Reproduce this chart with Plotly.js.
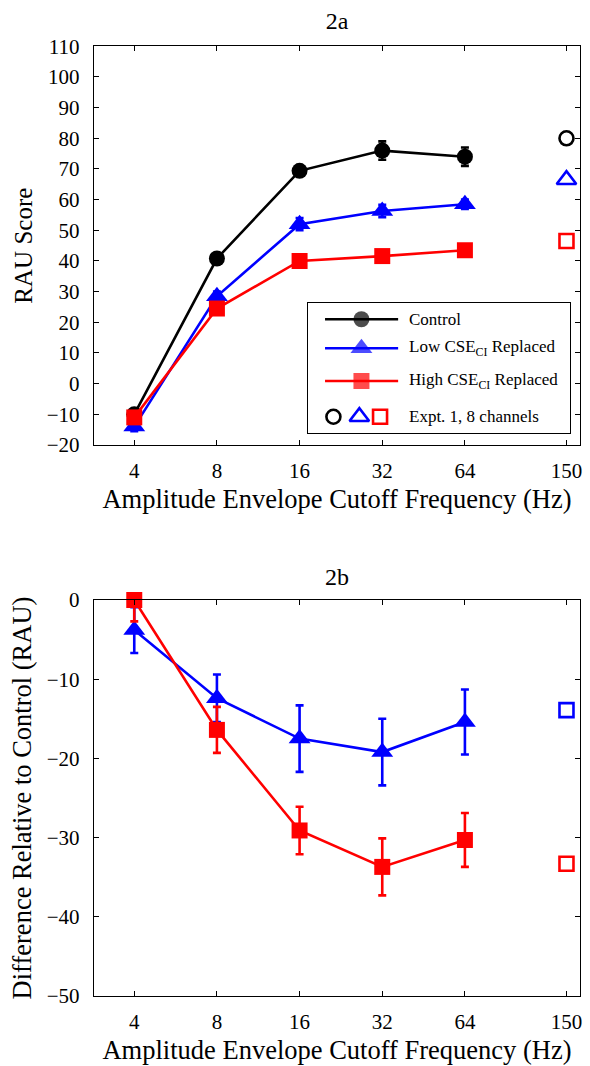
<!DOCTYPE html>
<html>
<head>
<meta charset="utf-8">
<script src="https://cdn.plot.ly/plotly-3.0.1.min.js"></script>
<style>html,body{margin:0;padding:0;background:#fff;}#chart{width:590px;height:1066px;}</style>
</head>
<body>
<div id="chart"></div>
<script>
// ---- data ----
const freqs = [4, 8, 16, 32, 64];
const exptFreq = [150];
const tickVals = [4, 8, 16, 32, 64, 150];
const tickLabels = ['4', '8', '16', '32', '64', '150'];

// Panel 2a: RAU scores
const controlRAU = [-10, 40.8, 69.4, 76, 74];
const controlErr = [1.5, 1.5, 1.5, 3, 3];
const lowRAU = [-14, 28.5, 52, 56.3, 58.5];
const lowErr = [1.5, 1.5, 2, 2, 1.5];
const highRAU = [-11, 24.5, 40, 41.6, 43.5];
const highErr = [1, 1.5, 1.5, 1.5, 1.5];
const exptControlRAU = [80];
const exptLowRAU = [66.5];
const exptHighRAU = [46.5];

// Panel 2b: difference relative to control
const lowDiff = [-3.8, -12.4, -17.5, -19.2, -15.4];
const lowDiffErr = [2.9, 3.0, 4.2, 4.2, 4.1];
const highDiff = [0, -16.4, -29.1, -33.7, -30.3];
const highDiffErr = [2.7, 2.9, 3.0, 3.6, 3.4];
const exptLowDiff = [-13.9];
const exptHighDiff = [-33.3];

// legend labels
const legendLabels = ['Control', 'Low CSE<sub>CI</sub> Replaced', 'High CSE<sub>CI</sub> Replaced', 'Expt. 1, 8 channels'];

// ---- style ----
const BLACK = '#000000', BLUE = '#0000ff', RED = '#ff0000';
const FONT = '"Liberation Serif", "Times New Roman", serif';
const W = 590, H = 1066;
const px = v => v / W;
const py = v => 1 - v / H;

function series(x, y, err, color, symbol, size, xa, ya) {
  return {
    x: x, y: y, xaxis: xa, yaxis: ya, type: 'scatter', mode: 'lines+markers',
    line: {color: color, width: 2.6},
    marker: {color: color, symbol: symbol, size: size, line: {width: 0}},
    error_y: {type: 'data', array: err, visible: true, color: color, thickness: 2.6, width: 4},
    showlegend: false, hoverinfo: 'x+y', cliponaxis: false
  };
}
function openPt(x, y, color, symbol, size, xa, ya) {
  return {
    x: x, y: y, xaxis: xa, yaxis: ya, type: 'scatter', mode: 'markers',
    marker: {color: color, symbol: symbol, size: size, line: {color: color, width: 2.6}},
    showlegend: false, hoverinfo: 'x+y'
  };
}

const traces = [
  series(freqs, controlRAU, controlErr, BLACK, 'circle', 16, 'x', 'y'),
  series(freqs, lowRAU, lowErr, BLUE, 'triangle-up', 19, 'x', 'y'),
  series(freqs, highRAU, highErr, RED, 'square', 16, 'x', 'y'),
  openPt(exptFreq, exptControlRAU, BLACK, 'circle-open', 14, 'x', 'y'),
  openPt(exptFreq, exptLowRAU, BLUE, 'triangle-up-open', 17, 'x', 'y'),
  openPt(exptFreq, exptHighRAU, RED, 'square-open', 14, 'x', 'y'),
  series(freqs, lowDiff, lowDiffErr, BLUE, 'triangle-up', 19, 'x2', 'y2'),
  series(freqs, highDiff, highDiffErr, RED, 'square', 16, 'x2', 'y2'),
  openPt(exptFreq, exptLowDiff, BLUE, 'square-open', 14, 'x2', 'y2'),
  openPt(exptFreq, exptHighDiff, RED, 'square-open', 14, 'x2', 'y2')
];

// ---- custom legend (in its own unit box axes) ----
const legRows = [0.875, 0.652, 0.40, 0.125];
const legLine = [0.065, 0.204, 0.344];
const legStyles = [
  {color: BLACK, symbol: 'circle', size: 16},
  {color: BLUE, symbol: 'triangle-up', size: 19},
  {color: RED, symbol: 'square', size: 16}
];
legStyles.forEach((s, i) => {
  traces.push({
    x: legLine, y: legLine.map(() => legRows[i]), xaxis: 'x3', yaxis: 'y3',
    type: 'scatter', mode: 'lines+markers', line: {color: s.color, width: 2.6},
    marker: {color: s.color, symbol: s.symbol, size: [0, s.size, 0], line: {width: 0}},
    showlegend: false, hoverinfo: 'skip'
  });
});
const legOpenX = [0.097, 0.196, 0.275];
const legOpen = [
  {color: BLACK, symbol: 'circle-open', size: 14},
  {color: BLUE, symbol: 'triangle-up-open', size: 17},
  {color: RED, symbol: 'square-open', size: 14}
];
legOpen.forEach((s, i) => {
  traces.push({
    x: [legOpenX[i]], y: [legRows[3]], xaxis: 'x3', yaxis: 'y3', type: 'scatter', mode: 'markers',
    marker: {color: s.color, symbol: s.symbol, size: s.size, line: {color: s.color, width: 2.6}},
    showlegend: false, hoverinfo: 'skip'
  });
});

const tickFont = {family: FONT, size: 21, color: BLACK};

function xAxis(domainAnchor) {
  return {
    type: 'log', range: [Math.log10(2.854), Math.log10(168)],
    domain: [px(94), px(580)], anchor: domainAnchor,
    tickmode: 'array', tickvals: tickVals, ticktext: tickLabels,
    ticks: 'inside', ticklen: 5, tickwidth: 1, tickcolor: BLACK,
    showline: true, linecolor: BLACK, linewidth: 1.3, mirror: 'ticks',
    showgrid: false, zeroline: false, tickfont: tickFont, ticklabelstandoff: 6,
    title: {text: 'Amplitude Envelope Cutoff Frequency (Hz)', font: {family: FONT, size: 26.5, color: BLACK}, standoff: 8}
  };
}
function yAxis(range, dom, title, size, domainAnchor) {
  return {
    range: range, domain: dom, anchor: domainAnchor, dtick: 10, tick0: 0,
    ticks: 'inside', ticklen: 5, tickwidth: 1, tickcolor: BLACK,
    showline: true, linecolor: BLACK, linewidth: 1.3, mirror: 'ticks',
    showgrid: false, zeroline: false, tickfont: tickFont, ticklabelstandoff: 9,
    title: {text: title, font: {family: FONT, size: size, color: BLACK}, standoff: 7}
  };
}

const layout = {
  width: W, height: H, margin: {l: 0, r: 0, t: 0, b: 0},
  paper_bgcolor: '#ffffff', plot_bgcolor: 'rgba(0,0,0,0)',
  font: {family: FONT, color: BLACK},
  showlegend: false,
  title: {text: '2a', font: {family: FONT, size: 24, color: BLACK}, x: px(337), xanchor: 'center', y: py(21), yanchor: 'middle'},
  xaxis: xAxis('y'),
  yaxis: yAxis([-20, 110], [py(445), py(46.3)], 'RAU Score', 25, 'x'),
  xaxis2: xAxis('y2'),
  yaxis2: yAxis([-50, 0], [py(996), py(600)], 'Difference Relative to Control (RAU)', 26.5, 'x2'),
  xaxis3: {domain: [px(308), px(570)], anchor: 'y3', range: [0, 1], showline: true, mirror: true, linecolor: BLACK, linewidth: 1.3, showticklabels: false, ticks: '', showgrid: false, zeroline: false, fixedrange: true},
  yaxis3: {domain: [py(433), py(303)], anchor: 'x3', range: [0, 1], showline: true, mirror: true, linecolor: BLACK, linewidth: 1.3, showticklabels: false, ticks: '', showgrid: false, zeroline: false, fixedrange: true},
  annotations: [
    {text: '2b', xref: 'paper', yref: 'paper', x: px(337), y: py(577), xanchor: 'center', yanchor: 'middle', showarrow: false, font: {family: FONT, size: 24, color: BLACK}}
  ].concat(legendLabels.map((t, i) => ({
    text: t, xref: 'x3', yref: 'y3', x: 0.377, y: legRows[i], xanchor: 'left', yanchor: 'middle',
    showarrow: false, font: {family: FONT, size: 17, color: BLACK}
  })))
};

Plotly.newPlot('chart', traces, layout, {displayModeBar: false, staticPlot: true});
</script>
</body>
</html>
